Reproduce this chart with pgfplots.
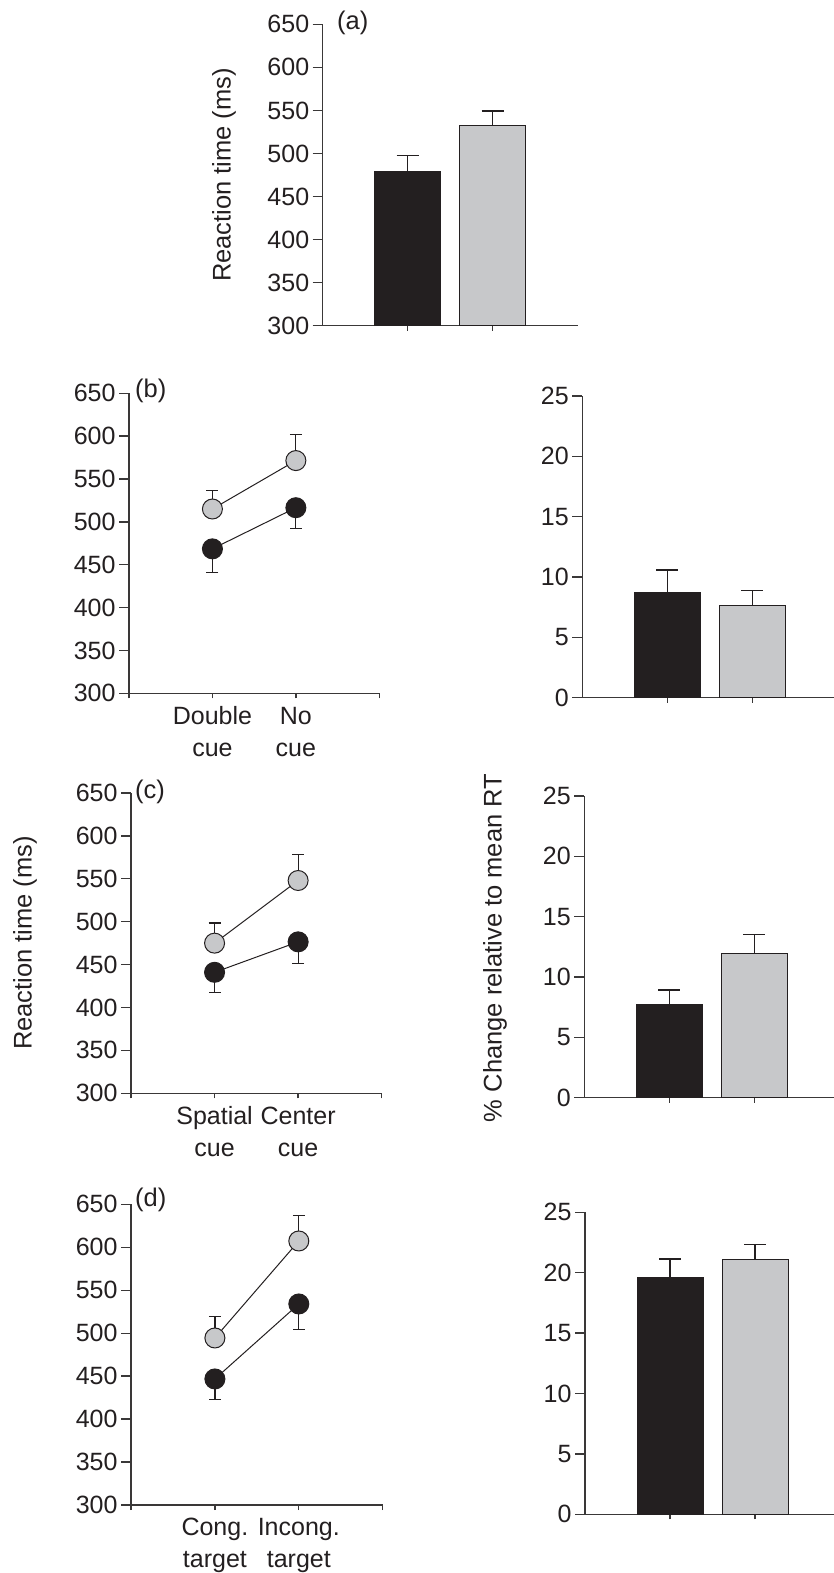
\documentclass[border=0pt]{standalone}
\usepackage{pgfplots}
\pgfplotsset{compat=1.18}
\usepackage{fontspec}
\setmainfont{Liberation Sans}
\definecolor{dk}{HTML}{231F20}
\definecolor{gr}{HTML}{C7C8CA}
\definecolor{axc}{HTML}{3A3838}
\pgfplotsset{
  base/.style={scale only axis, axis lines*=left, tick align=outside,
    major tick length=10pt,
    axis line style={line width=1.3pt, color=axc},
    every tick/.style={line width=1.3pt, color=axc},
    tick label style={font=\fontsize{25}{32}\selectfont, color=dk},
    /pgf/number format/assume math mode=true,
    xtick style={/pgfplots/major tick length=5pt},
  },
  rt/.style={base, ymin=300, ymax=650, ytick={300,350,400,450,500,550,600,650}, xmin=0, xmax=3},
  pc/.style={base, ymin=0, ymax=25, ytick={0,5,10,15,20,25}, xmin=0, xmax=3, xtick={1,2}, xticklabels={}},
  bk/.style={ybar, bar width=66pt, fill=dk, draw=dk, line width=1pt,
    error bars/.cd, y dir=plus, y explicit, error bar style={line width=1.2pt, color=dk},
    error mark=-, error mark options={rotate=90, mark size=11pt, line width=1.2pt, color=dk}},
  gy/.style={ybar, bar width=66pt, fill=gr, draw=dk, line width=1pt,
    error bars/.cd, y dir=plus, y explicit, error bar style={line width=1.2pt, color=dk},
    error mark=-, error mark options={rotate=90, mark size=11pt, line width=1.2pt, color=dk}},
  ebp/.style={draw=none, mark=none, forget plot,
    error bars/.cd, y dir=plus, y explicit, error bar style={line width=1.2pt, color=dk},
    error mark=-, error mark options={rotate=90, mark size=6pt, line width=1.2pt, color=dk}},
  ebm/.style={draw=none, mark=none, forget plot,
    error bars/.cd, y dir=minus, y explicit, error bar style={line width=1.2pt, color=dk},
    error mark=-, error mark options={rotate=90, mark size=6pt, line width=1.2pt, color=dk}},
  lgy/.style={color=dk, line width=1pt, mark=*, mark size=10pt, mark options={fill=gr, draw=dk, line width=1pt}},
  lbk/.style={color=dk, line width=1pt, mark=*, mark size=10pt, mark options={fill=dk, draw=dk, line width=1pt}},
}
\begin{document}
\begin{tikzpicture}[x=1pt,y=1pt]
% (a)
\begin{axis}[rt, at={(322.7pt,1247.3pt)}, anchor=south west, width=255pt, height=301.4pt,
  xtick={1,2}, xticklabels={},
  ylabel={Reaction time (ms)}, ylabel style={at={(axis description cs:-0.387,0.5)}, anchor=center, font=\fontsize{25.5}{30}\selectfont, color=dk}]
\addplot[bk] coordinates {(1,479.3) +- (0,18.1)};
\addplot[gy] coordinates {(2,532.7) +- (0,16.6)};
\end{axis}
% (b) left
\begin{axis}[rt, at={(129pt,879.7pt)}, anchor=south west, width=250.3pt, height=300pt,
  xtick={0,1,2,3}, xticklabels={,{Double\\cue},{No\\cue},}, xticklabel style={align=center}]
\addplot[ebp] coordinates {(1,515) +- (0,22) (2,571.5) +- (0,30)};
\addplot[ebm] coordinates {(1,468.5) +- (0,27.5) (2,516.5) +- (0,24.5)};
\addplot[lgy] coordinates {(1,515) (2,571.5)};
\addplot[lbk] coordinates {(1,468.5) (2,516.5)};
\end{axis}
% (b) right
\begin{axis}[pc, at={(582.3pt,875.3pt)}, anchor=south west, width=255pt, height=301.7pt]
\addplot[bk] coordinates {(1,8.70) +- (0,1.88)};
\addplot[gy] coordinates {(2,7.60) +- (0,1.27)};
\end{axis}
% (c) left
\begin{axis}[rt, at={(131pt,479.7pt)}, anchor=south west, width=250.7pt, height=300.3pt,
  xtick={0,1,2,3}, xticklabels={,{Spatial\\cue},{Center\\cue},}, xticklabel style={align=center}]
\addplot[ebp] coordinates {(1,475) +- (0,23.5) (2,548) +- (0,30.5)};
\addplot[ebm] coordinates {(1,441) +- (0,23.7) (2,476.5) +- (0,25.4)};
\addplot[lgy] coordinates {(1,475) (2,548)};
\addplot[lbk] coordinates {(1,441) (2,476.5)};
\end{axis}
% (c) right
\begin{axis}[pc, at={(584.3pt,475.3pt)}, anchor=south west, width=255pt, height=301.7pt]
\addplot[bk] coordinates {(1,7.74) +- (0,1.19)};
\addplot[gy] coordinates {(2,11.97) +- (0,1.54)};
\end{axis}
% (d) left
\begin{axis}[rt, at={(131pt,68pt)}, anchor=south west, width=251.7pt, height=300.7pt,
  xtick={0,1,2,3}, xticklabels={,{Cong.\\target},{Incong.\\target},}, xticklabel style={align=center}]
\addplot[ebp] coordinates {(1,494.4) +- (0,25.3) (2,607.3) +- (0,29.5)};
\addplot[ebm] coordinates {(1,446.7) +- (0,23.7) (2,534) +- (0,30)};
\addplot[lgy] coordinates {(1,494.4) (2,607.3)};
\addplot[lbk] coordinates {(1,446.7) (2,534)};
\end{axis}
% (d) right
\begin{axis}[pc, at={(585pt,58.7pt)}, anchor=south west, width=255pt, height=302pt]
\addplot[bk] coordinates {(1,19.62) +- (0,1.51)};
\addplot[gy] coordinates {(2,21.08) +- (0,1.24)};
\end{axis}
% panel letters and shared labels
\begin{scope}[every node/.style={font=\fontsize{25.5}{30}\selectfont, text=dk, inner sep=0pt}]
\node[anchor=west] at (337,1550) {(a)};
\node[anchor=west] at (135,1182) {(b)};
\node[anchor=west] at (135,781) {(c)};
\node[anchor=west] at (135,373) {(d)};
\node[rotate=90] at (25,630) {Reaction time (ms)};
\node[rotate=90] at (495,625) {\% Change relative to mean RT};
\end{scope}
\pgfresetboundingbox
\path[use as bounding box] (0,0) rectangle (834,1573);
\end{tikzpicture}
\end{document}
